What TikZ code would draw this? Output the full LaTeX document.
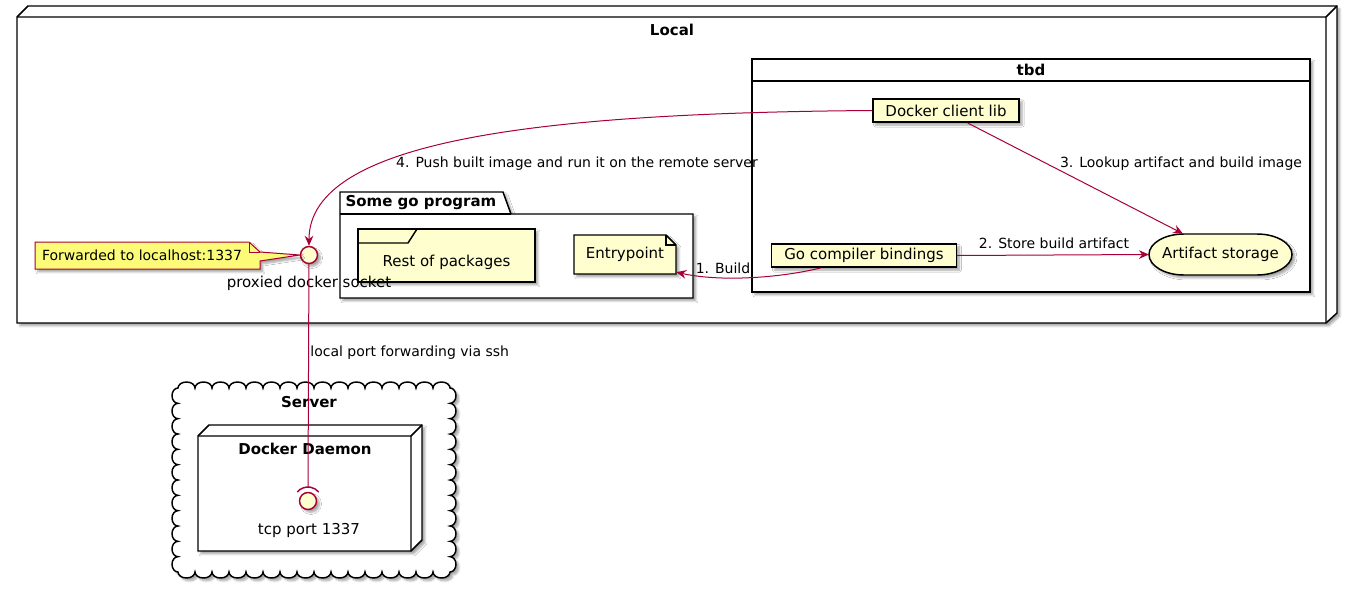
\documentclass[tikz,border=0pt]{standalone}
\usepackage{fontspec}
\setmainfont{DejaVu Sans}
\usetikzlibrary{arrows.meta,shadows.blur,calc}

\definecolor{plumred}{HTML}{A80036}
\definecolor{plumfill}{HTML}{FEFECE}
\definecolor{plumnote}{HTML}{FBFB77}

\begin{document}
\begin{tikzpicture}[x=0.75pt,y=-0.75pt,
  shad/.style={blur shadow={shadow blur steps=6,shadow xshift=2.2pt,shadow yshift=-2.2pt,shadow blur radius=1.5pt,shadow opacity=35}},
  frame/.style={draw=black,line width=1.1pt,fill=white,shad},
  edge/.style={draw=black,line width=1.1pt},
  box/.style={draw=black,line width=1.1pt,fill=plumfill,shad,font=\fontsize{11.25}{13}\selectfont,inner xsep=9.5pt,minimum height=17.5pt},
  txt/.style={font=\fontsize{11.25}{13}\selectfont,inner sep=1pt},
  title/.style={font=\fontsize{11.25}{13}\selectfont\bfseries,inner sep=1pt},
  lbl/.style={font=\fontsize{10.5}{12}\selectfont,inner sep=1pt},
  link/.style={draw=plumred,line width=0.75pt},
  arr/.style={link,-{Stealth[length=7.5pt,width=6.5pt,inset=2.5pt]}},
  iface/.style={circle,draw=plumred,line width=1.1pt,fill=plumfill,minimum size=12.75pt,inner sep=0pt,shad}]
\useasboundingbox (0,0) rectangle (1354,593);

\path[frame] (17,17) -- (28,6) -- (1337,6) -- (1337,313) -- (1326,323) -- (17,323) -- cycle;
\draw[edge] (17,17) -- (1326,17) -- (1326,323) (1326,17) -- (1337,6);
\node[title] (local) at (672,30) {Local};

\path[frame] (752,59) rectangle (1310,292);
\draw[edge] (752,81) -- (1310,81);
\node[title] (tbd) at (1031,70) {tbd};

\node[box] (dcl) at (946,110.5) {Docker client lib};
\node[box] (gcb) at (864,255.5) {Go compiler bindings};
\path[box] (1184,234) -- (1257,234) arc[start angle=270,end angle=450,x radius=35,y radius=20.5]
  -- (1184,275) arc[start angle=90,end angle=270,x radius=35,y radius=20.5] -- cycle;
\node[txt,minimum width=107pt,minimum height=30.75pt] (store) at (1220.5,254.5) {Artifact storage};

\path[frame] (340,192) -- (503,192) -- (511,214) -- (693,214) -- (693,298) -- (340,298) -- cycle;
\draw[edge] (340,214) -- (511,214);
\node[title,anchor=west] (pkg) at (344,203) {Some go program};

\node[box,minimum width=132.75pt,minimum height=39.75pt,
  label={[txt,yshift=-5pt]center:Rest of packages}] (rest) at (446.5,255.5) {};
\draw[edge] (358,243) -- (408,243) -- (417,229);

\path[box] (574,235) -- (666,235) -- (676,245) -- (676,274) -- (574,274) -- cycle;
\draw[edge] (666,235) -- (666,245) -- (676,245);
\node[txt,minimum width=76.5pt,minimum height=29.25pt] (entry) at (625,254.5) {Entrypoint};

\node[iface] (psock) at (309,255) {};
\node[txt] (psocklbl) at (309,283) {proxied docker socket};

\path[draw=plumred,fill=plumnote,line width=0.75pt,shad] (35,242) -- (249,242) -- (260,252)
  -- (psock.west) -- (260,261) -- (260,269) -- (35,269) -- cycle;
\draw[plumred,line width=0.75pt] (249,242) -- (249,252) -- (260,252);
\node[lbl] (fwd) at (142,255.5) {Forwarded to localhost:1337};

\path[frame] (178,388)
  \foreach \i in {1,...,16} { arc[start angle=180,end angle=360,x radius=8.5,y radius=6] }
  \foreach \i in {1,...,12} { arc[start angle=-90,end angle=90,x radius=6,y radius=7.6667] }
  \foreach \i in {1,...,16} { arc[start angle=0,end angle=180,x radius=8.5,y radius=6] }
  \foreach \i in {1,...,12} { arc[start angle=90,end angle=270,x radius=6,y radius=7.6667] }
  -- cycle;
\node[title] (server) at (309,402) {Server};

\path[frame] (198,436) -- (209,425) -- (422,425) -- (422,540) -- (411,551) -- (198,551) -- cycle;
\draw[edge] (198,436) -- (411,436) -- (411,551) (411,436) -- (422,425);
\node[title] (daemon) at (305,449) {Docker Daemon};

\node[iface] (tcp) at (308,501) {};
\node[txt] (tcplbl) at (309,530) {tcp port 1337};
\draw[plumred,line width=1.1pt] ($(tcp)+(220:14)$) arc[start angle=220,end angle=320,radius=14];
\coordinate (sockarc) at ($(tcp)+(0,-14)$);

\draw[link] (psock) -- (sockarc) node[lbl,pos=0.395,right=0pt] {local port forwarding via ssh};
\draw[arr] (dcl.west) .. controls (540,113) and (309,140) .. (psock.north);
\node[lbl] at (577,164) {4. Push built image and run it on the remote server};
\draw[arr] (dcl.-30) -- (store.151);
\node[lbl] at (1181,164) {3. Lookup artifact and build image};
\draw[arr] (gcb.east) -- (store.west);
\node[lbl] at (1054,243) {2. Store build artifact};
\draw[arr] (gcb.196) .. controls (780,278) and (720,282) .. (entry.-19);
\node[lbl] at (723,268) {1. Build};
\end{tikzpicture}
\end{document}
